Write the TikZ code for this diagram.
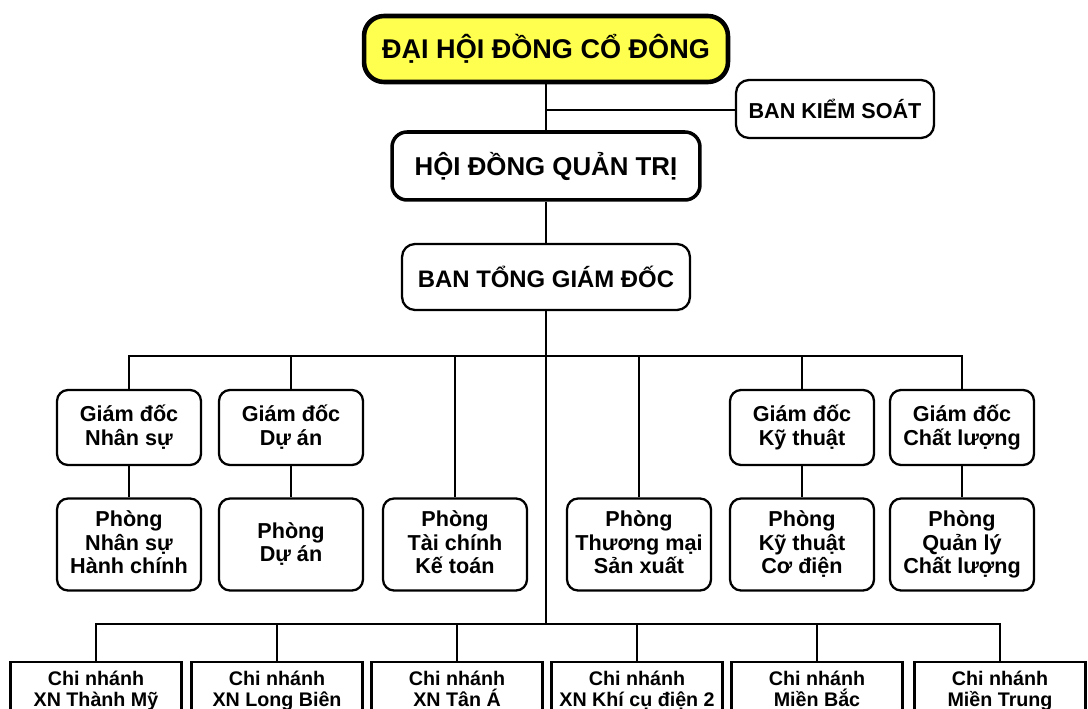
\documentclass[tikz,border=0pt]{standalone}
\usepackage{fontspec}
\setmainfont{Liberation Sans}
\definecolor{topyellow}{RGB}{255,255,80}
\begin{document}
\begin{tikzpicture}[x=0.02cm,y=-0.02cm,
  conn/.style={line width=1.2pt},
  base/.style={draw, align=center, inner sep=0pt, line width=1.3pt},
  multi/.style={execute at begin node={\lineskiplimit=-100pt\lineskip=0pt\vphantom{Ố}},
    execute at end node={\vphantom{g}}},
  gdbox/.style={base, multi, rounded corners=0.22cm, minimum width=2.88cm, minimum height=1.5cm,
    font=\bfseries\fontsize{12.3}{14}\selectfont},
  phbox/.style={base, multi, rounded corners=0.22cm, minimum width=2.88cm, minimum height=1.84cm,
    font=\bfseries\fontsize{12.3}{13.3}\selectfont},
  cnbox/.style={base, multi, minimum width=3.42cm, minimum height=1.16cm,
    font=\bfseries\fontsize{11.2}{12}\selectfont}
]
\useasboundingbox (0,0) rectangle (1088,709);
\clip (0,0) rectangle (1088,709);

% top levels
\node[base, fill=topyellow, rounded corners=0.4cm, line width=2.6pt,
  minimum width=7.28cm, minimum height=1.32cm,
  font=\bfseries\fontsize{15.4}{17}\selectfont] (dh) at (546,49) {ĐẠI HỘI ĐỒNG CỔ ĐÔNG};
\node[base, rounded corners=0.26cm, minimum width=3.96cm, minimum height=1.16cm,
  font=\bfseries\fontsize{12.3}{14}\selectfont] (bks) at (835,109) {BAN KIỂM SOÁT};
\node[base, rounded corners=0.3cm, line width=2pt, minimum width=6.16cm, minimum height=1.36cm,
  font=\bfseries\fontsize{14.7}{16}\selectfont] (hd) at (546,166) {HỘI ĐỒNG QUẢN TRỊ};
\node[base, rounded corners=0.26cm, minimum width=5.76cm, minimum height=1.32cm,
  font=\bfseries\fontsize{13.6}{15}\selectfont] (btgd) at (546,277) {BAN TỔNG GIÁM ĐỐC};

% directors
\node[gdbox] (gns) at (129,427.5) {Giám đốc\\Nhân sự};
\node[gdbox] (gda) at (291,427.5) {Giám đốc\\Dự án};
\node[gdbox] (gkt) at (802,427.5) {Giám đốc\\Kỹ thuật};
\node[gdbox] (gcl) at (962,427.5) {Giám đốc\\Chất lượng};

% departments
\node[phbox] (pns) at (129,544.5) {Phòng\\Nhân sự\\Hành chính};
\node[phbox] (pda) at (291,544.5) {Phòng\\Dự án};
\node[phbox] (ptc) at (455,544.5) {Phòng\\Tài chính\\Kế toán};
\node[phbox] (ptm) at (639,544.5) {Phòng\\Thương mại\\Sản xuất};
\node[phbox] (pkt) at (802,544.5) {Phòng\\Kỹ thuật\\Cơ điện};
\node[phbox] (pcl) at (962,544.5) {Phòng\\Quản lý\\Chất lượng};

% branches
\node[cnbox] (cn1) at (96,691) {Chi nhánh\\XN Thành Mỹ};
\node[cnbox] (cn2) at (277,691) {Chi nhánh\\XN Long Biên};
\node[cnbox] (cn3) at (457,691) {Chi nhánh\\XN Tân Á};
\node[cnbox] (cn4) at (637,691) {Chi nhánh\\XN Khí cụ điện 2};
\node[cnbox] (cn5) at (817,691) {Chi nhánh\\Miền Bắc};
\node[cnbox] (cn6) at (1000,691) {Chi nhánh\\Miền Trung};

% bus coordinates
\coordinate (bksj) at (546,110);
\coordinate (bus1) at (546,356);
\coordinate (bus2) at (546,624);

% connectors
\draw[conn] (dh.south) -- (hd.north);
\draw[conn] (bksj) -- (bksj -| bks.west);
\draw[conn] (hd.south) -- (btgd.north);
\draw[conn] (btgd.south) -- (bus2);
\draw[conn] (gns.north) |- (bus1) -| (gcl.north);
\draw[conn] (gda.north) -- (gda.north |- bus1);
\draw[conn] (ptc.north) -- (ptc.north |- bus1);
\draw[conn] (ptm.north) -- (ptm.north |- bus1);
\draw[conn] (gkt.north) -- (gkt.north |- bus1);
\draw[conn] (gns.south) -- (pns.north);
\draw[conn] (gda.south) -- (pda.north);
\draw[conn] (gkt.south) -- (pkt.north);
\draw[conn] (gcl.south) -- (pcl.north);
\draw[conn] (cn1.north) |- (bus2) -| (cn6.north);
\draw[conn] (cn2.north) -- (cn2.north |- bus2);
\draw[conn] (cn3.north) -- (cn3.north |- bus2);
\draw[conn] (cn4.north) -- (cn4.north |- bus2);
\draw[conn] (cn5.north) -- (cn5.north |- bus2);
\end{tikzpicture}
\end{document}
